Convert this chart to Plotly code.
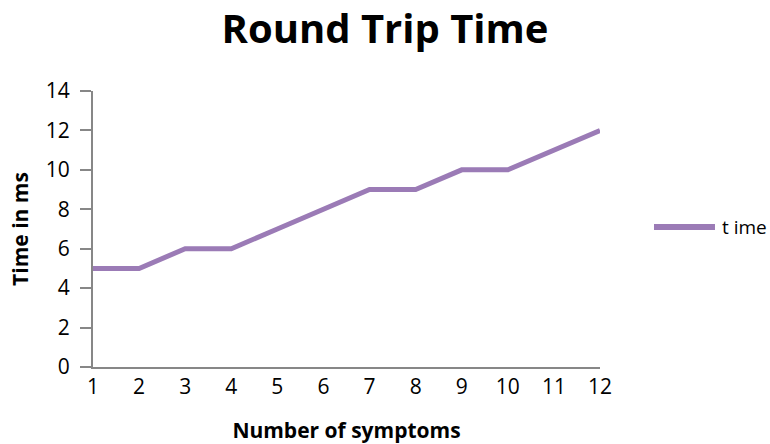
import plotly.graph_objects as go

symptoms = list(range(1, 13))
time_ms = [5, 5, 6, 6, 7, 8, 9, 9, 10, 10, 11, 12]
y_ticks = [0, 2, 4, 6, 8, 10, 12, 14]
series_name = "t ime"

font_family = "Open Sans, Lato, sans-serif"
line_color = "#9b7bb6"

fig = go.Figure()
fig.add_trace(go.Scatter(
    x=symptoms, y=time_ms, mode="lines", name=series_name,
    line=dict(color=line_color, width=5), showlegend=False,
))

# legend drawn manually (longer legend line as in reference)
fig.add_shape(type="line", xref="paper", yref="paper",
              x0=1.1065, x1=1.2268, y0=0.507, y1=0.507,
              line=dict(color=line_color, width=6))
fig.add_annotation(text=series_name, xref="paper", yref="paper",
                   x=1.236, y=0.507, xanchor="left", yanchor="middle",
                   showarrow=False, font=dict(size=19, family=font_family))

fig.update_layout(
    width=770, height=444,
    margin=dict(l=93, r=170, t=91, b=77),
    paper_bgcolor="white", plot_bgcolor="white",
    font=dict(family=font_family, color="#000"),
    title=dict(text="<b>Round Trip Time</b>", x=0.5, xanchor="center",
               y=0.935, yanchor="middle", font=dict(size=40, family=font_family)),
    showlegend=False,
    xaxis=dict(
        range=[1, 12], tickmode="array", tickvals=symptoms,
        showgrid=False, zeroline=False, showline=True, linecolor="#878787", linewidth=2,
        ticks="", tickfont=dict(size=21), automargin=False,
        title=dict(text="<b>Number of symptoms</b>", font=dict(size=21), standoff=25),
    ),
    yaxis=dict(
        range=[0, 14], tickmode="array", tickvals=y_ticks,
        showgrid=False, zeroline=False, showline=True, linecolor="#878787", linewidth=2,
        ticks="outside", ticklen=11, tickwidth=2, tickcolor="#878787",
        tickfont=dict(size=21), ticklabelstandoff=6, automargin=False,
        title=dict(text="<b>Time in ms</b>", font=dict(size=21), standoff=11),
    ),
)

fig.write_html("out.html", config={"displayModeBar": False},
               post_script="document.body.style.margin='0';")
